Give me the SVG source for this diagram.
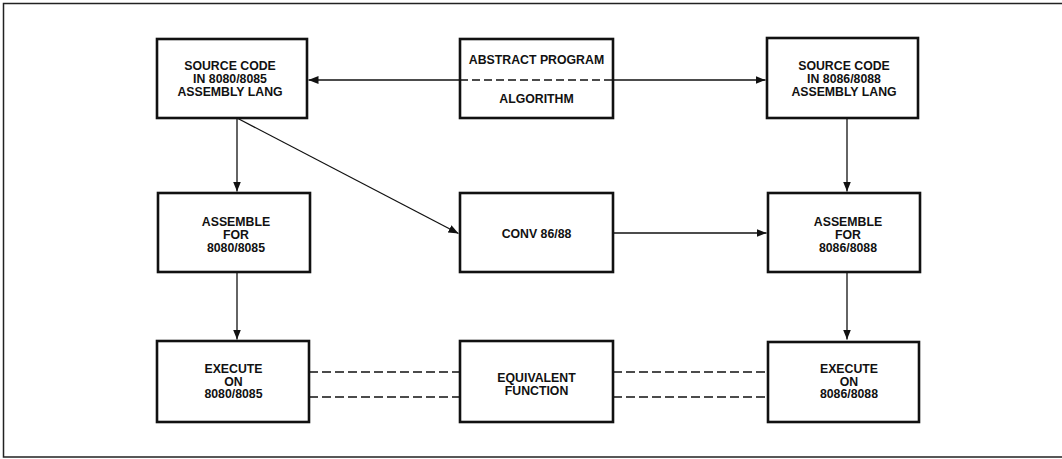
<svg xmlns="http://www.w3.org/2000/svg" width="1062" height="459" viewBox="0 0 1062 459">
<style>
.box{fill:#fff;stroke:#111;stroke-width:2.6}
.t{font-family:"Liberation Sans",Arial,sans-serif;font-weight:bold;font-size:12.3px;fill:#111;text-anchor:middle}
.c{fill:none;stroke:#111;stroke-width:1.3}
.d{fill:none;stroke:#111;stroke-width:1.5;stroke-dasharray:9 4}
.frame{fill:none;stroke:#222;stroke-width:1.5}
</style>
<defs>
<marker id="ah" viewBox="0 0 10 8" refX="10" refY="4" markerWidth="10" markerHeight="8" markerUnits="userSpaceOnUse" orient="auto">
<path d="M0,0 L10,4 L0,8 Z" fill="#111"/>
</marker>
</defs>
<rect width="1062" height="459" fill="#fff"/>
<path class="frame" d="M1062,3.5 H3.5 V457 H1062"/>
<g id="connectors">
<line class="c" x1="460" y1="80" x2="308.5" y2="80" marker-end="url(#ah)"/>
<line class="c" x1="613" y1="80" x2="765.5" y2="80" marker-end="url(#ah)"/>
<line class="c" x1="237" y1="118" x2="237" y2="191.5" marker-end="url(#ah)"/>
<line class="c" x1="237" y1="118" x2="458.5" y2="233.5" marker-end="url(#ah)"/>
<line class="c" x1="847" y1="118" x2="847" y2="191.5" marker-end="url(#ah)"/>
<line class="c" x1="613" y1="233" x2="766.5" y2="233" marker-end="url(#ah)"/>
<line class="c" x1="237" y1="272" x2="237" y2="339.5" marker-end="url(#ah)"/>
<line class="c" x1="847" y1="272" x2="847" y2="339.5" marker-end="url(#ah)"/>
<line class="d" x1="309" y1="372" x2="460" y2="372"/>
<line class="d" x1="309" y1="397" x2="460" y2="397"/>
<line class="d" x1="613" y1="372" x2="768" y2="372"/>
<line class="d" x1="613" y1="397" x2="768" y2="397"/>
</g>
<g id="src8080">
<rect class="box" x="157" y="39" width="150" height="79"/>
<text class="t" x="230" y="69.5">SOURCE CODE</text>
<text class="t" x="230" y="83">IN 8080/8085</text>
<text class="t" x="230" y="96">ASSEMBLY LANG</text>
</g>
<g id="abstract">
<rect class="box" x="460" y="39" width="153" height="79"/>
<line class="d" x1="460" y1="80" x2="613" y2="80" style="stroke-dasharray:8 4"/>
<text class="t" x="536.5" y="63.5">ABSTRACT PROGRAM</text>
<text class="t" x="536.5" y="103">ALGORITHM</text>
</g>
<g id="src8086">
<rect class="box" x="767" y="38" width="151" height="80"/>
<text class="t" x="844" y="69.5">SOURCE CODE</text>
<text class="t" x="844" y="83">IN 8086/8088</text>
<text class="t" x="844" y="96">ASSEMBLY LANG</text>
</g>
<g id="asm8080">
<rect class="box" x="158" y="193" width="152" height="79"/>
<text class="t" x="236" y="226">ASSEMBLE</text>
<text class="t" x="236" y="238.5">FOR</text>
<text class="t" x="236" y="251.5">8080/8085</text>
</g>
<g id="conv">
<rect class="box" x="460" y="193" width="153" height="79"/>
<text class="t" x="536.5" y="237.5">CONV 86/88</text>
</g>
<g id="asm8086">
<rect class="box" x="768" y="193" width="152" height="79"/>
<text class="t" x="848" y="226">ASSEMBLE</text>
<text class="t" x="848" y="238.5">FOR</text>
<text class="t" x="848" y="251.5">8086/8088</text>
</g>
<g id="exec8080">
<rect class="box" x="157" y="341" width="152" height="81"/>
<text class="t" x="233.5" y="373">EXECUTE</text>
<text class="t" x="233.5" y="385.5">ON</text>
<text class="t" x="233.5" y="398">8080/8085</text>
</g>
<g id="equiv">
<rect class="box" x="460" y="341" width="153" height="81"/>
<text class="t" x="536.5" y="382">EQUIVALENT</text>
<text class="t" x="536.5" y="395">FUNCTION</text>
</g>
<g id="exec8086">
<rect class="box" x="768" y="342" width="151" height="80"/>
<text class="t" x="849" y="373">EXECUTE</text>
<text class="t" x="849" y="385.5">ON</text>
<text class="t" x="849" y="398">8086/8088</text>
</g>
</svg>
